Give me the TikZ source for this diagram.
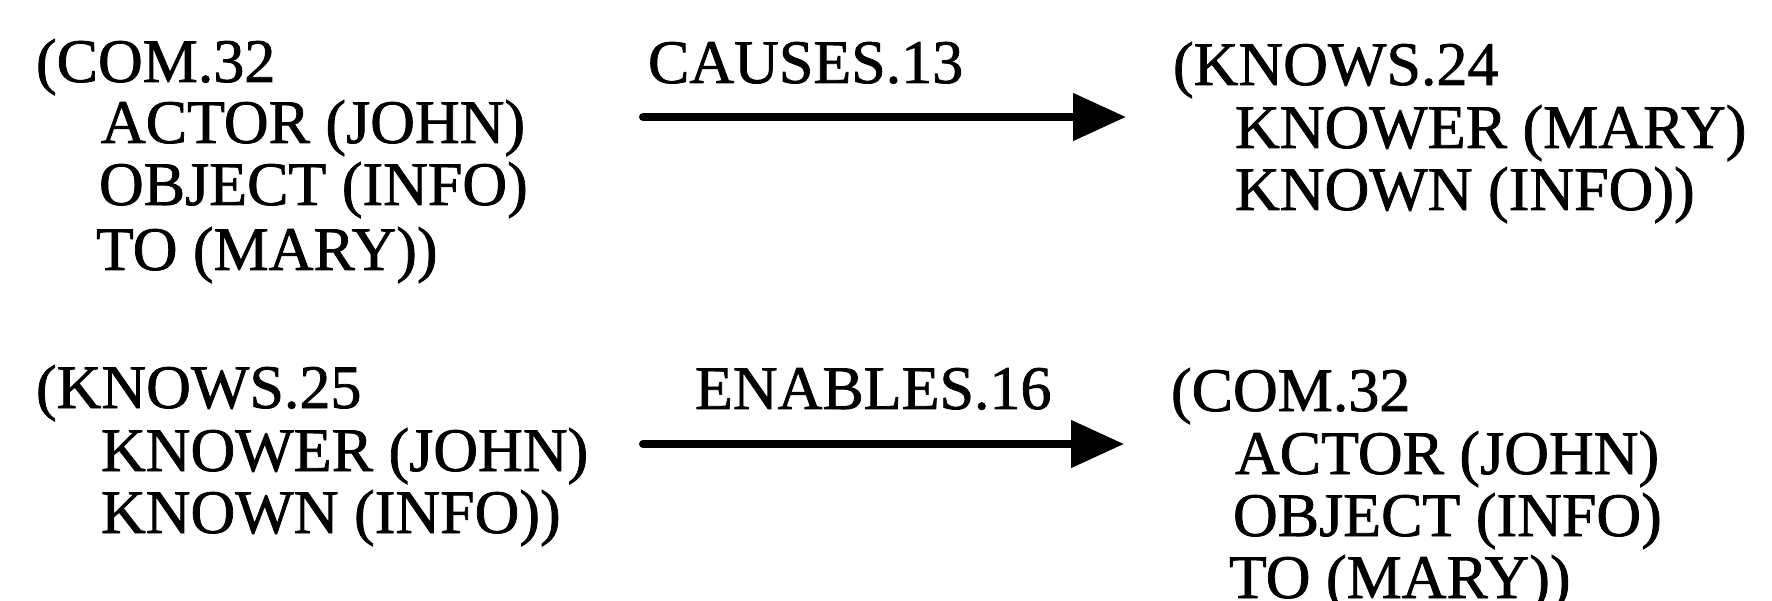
\documentclass[tikz,border=0pt]{standalone}
\usepackage{fontspec}
\setmainfont{Liberation Serif}
\newfontfamily\scanfont[BoldFont={Liberation Serif}, BoldFeatures={FakeBold=1.2}]{Liberation Serif}
\usetikzlibrary{arrows.meta}
\tikzset{
  txt/.style={inner sep=0pt, outer sep=0pt, anchor=base west, font=\fontsize{62pt}{70pt}\scanfont\bfseries},
  conn/.style={line width=8pt, line cap=round, -{Triangle[length=53pt,width=46pt]}}
}
\begin{document}
\begin{tikzpicture}[x=1pt,y=-1pt]
\useasboundingbox (0,0) rectangle (1772,601);
% top left block
\node[txt] (a1) at (36,82) {(COM.32};
\node[txt] (a2) at (101,143) {ACTOR (JOHN)};
\node[txt] (a3) at (99,205) {OBJECT (INFO)};
\node[txt] (a4) at (96,270) {TO (MARY))};
% top label
\node[txt] (l1) at (648,83) {CAUSES.13};
% top right block
\node[txt] (b1) at (1173,85) {(KNOWS.24};
\node[txt] (b2) at (1235,148) {KNOWER (MARY)};
\node[txt] (b3) at (1235,210) {KNOWN (INFO))};
% bottom left block
\node[txt] (c1) at (36,408) {(KNOWS.25};
\node[txt] (c2) at (101,471) {KNOWER (JOHN)};
\node[txt] (c3) at (101,533) {KNOWN (INFO))};
% bottom label
\node[txt] (l2) at (695,409) {ENABLES.16};
% bottom right block
\node[txt] (d1) at (1171,411) {(COM.32};
\node[txt] (d2) at (1235,474) {ACTOR (JOHN)};
\node[txt] (d3) at (1233,536) {OBJECT (INFO)};
\node[txt] (d4) at (1229,598) {TO (MARY))};
% arrows
\coordinate (s1) at (643,117);
\coordinate (e1) at (1126,117);
\coordinate (s2) at (643,444);
\coordinate (e2) at (1124,444);
\draw[conn] (s1) -- (e1);
\draw[conn] (s2) -- (e2);
\end{tikzpicture}
\end{document}
